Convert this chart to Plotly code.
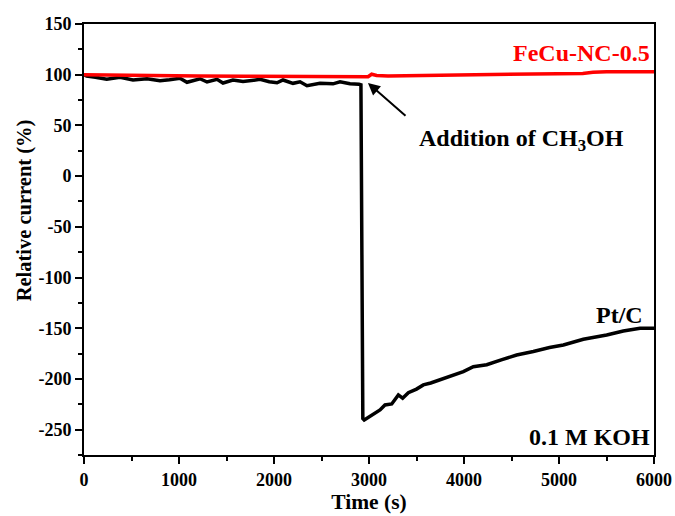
import plotly.graph_objects as go

# Pt/C series
pt_t = [0, 28, 120, 239, 379, 516, 663, 800, 900, 1010, 1084, 1221, 1295, 1400, 1463,
        1568, 1674, 1753, 1853, 1950, 2032, 2095, 2200, 2274, 2347, 2484, 2621, 2695,
        2800, 2895, 2915, 2935, 2950, 3116, 3168, 3239, 3274, 3309, 3354, 3414, 3500,
        3572, 3650, 3747, 3850, 3993, 4098, 4239, 4400, 4554, 4730, 4900, 5046, 5256,
        5502, 5677, 5853, 6000]
pt_y = [100, 98.6, 97.5, 95.5, 97.5, 94.8, 96, 94, 95, 96.5, 92.5, 96, 92.8, 95.4, 91.8,
        94.8, 93.2, 94, 95.4, 93, 92, 94.8, 91.5, 93, 89.2, 91.5, 91, 93,
        91, 90.5, 90, -239, -240.5, -230.6, -225.7, -224.7, -220.7, -215.8, -219, -213.5, -210,
        -205.9, -204, -201, -197.5, -192.7, -187.9, -186, -181, -176.4, -173, -169, -166.5, -160.9,
        -156.6, -152.7, -150, -150]

# FeCu-NC-0.5 series
fe_t = [0, 300, 700, 1200, 1700, 2200, 2600, 2900, 2990, 3028, 3080, 3200, 3600, 4000,
        4449, 5000, 5250, 5358, 5500, 6000]
fe_y = [100, 99.5, 99, 98.8, 98.5, 98, 97.6, 97.5, 98, 100.5, 99.2, 98.8, 99.2, 99.8,
        100.5, 101, 101.3, 102.3, 102.8, 103]

x_ticks = [0, 1000, 2000, 3000, 4000, 5000, 6000]
y_ticks = [150, 100, 50, 0, -50, -100, -150, -200, -250]

FONT = "Liberation Serif"

fig = go.Figure()
fig.add_trace(go.Scatter(x=pt_t, y=pt_y, mode="lines", line=dict(color="black", width=3.5),
                         name="Pt/C", showlegend=False))
fig.add_trace(go.Scatter(x=fe_t, y=fe_y, mode="lines", line=dict(color="#ff0000", width=3.5),
                         name="FeCu-NC-0.5", showlegend=False))

axis_common = dict(
    showline=True, linecolor="black", linewidth=2, mirror=True,
    ticks="outside", ticklen=7, tickwidth=2, tickcolor="black",
    showgrid=False, zeroline=False, automargin=False,
    tickfont=dict(family=FONT, size=18, color="black"),
)

fig.update_xaxes(range=[0, 6000], tickvals=x_ticks, ticktext=["<b>%d</b>" % v for v in x_ticks],
                 minor=dict(dtick=500, ticklen=4, tickwidth=2, tickcolor="black", ticks="outside"),
                 title=dict(text="<b>Time (s)</b>", font=dict(family=FONT, size=21.5, color="black"),
                            standoff=4),
                 **axis_common)
fig.update_yaxes(range=[-275, 150], tickvals=y_ticks, ticktext=["<b>%d</b>" % v for v in y_ticks],
                 minor=dict(dtick=25, tick0=0, ticklen=4, tickwidth=2, tickcolor="black", ticks="outside"),
                 **axis_common)

# y-axis title placed as rotated text
fig.add_annotation(x=-0.105, y=0.568, xref="paper", yref="paper", text="<b>Relative current (%)</b>",
                   showarrow=False, textangle=-90, xanchor="center", yanchor="middle",
                   font=dict(family=FONT, size=20.5, color="black"))

ann_font = dict(family=FONT, size=24, color="black")
fig.add_annotation(x=6000, y=121, xref="x", yref="y", text="<b>FeCu-NC-0.5</b>", showarrow=False,
                   xanchor="right", yanchor="middle", xshift=-2,
                   font=dict(family=FONT, size=24, color="#ff0000"))
fig.add_annotation(x=3505, y=36, xref="x", yref="y", text="<b>Addition of CH<sub>3</sub>OH</b>", showarrow=False,
                   xanchor="left", yanchor="middle", font=ann_font)
fig.add_annotation(x=2989, y=91.8, ax=3400, ay=58.3, xref="x", yref="y", axref="x", ayref="y",
                   text="", showarrow=True, arrowhead=2, arrowsize=1.2, arrowwidth=2, arrowcolor="black")
fig.add_annotation(x=5905, y=-137, xref="x", yref="y", text="<b>Pt/C</b>", showarrow=False,
                   xanchor="right", yanchor="middle", font=ann_font)
fig.add_annotation(x=5979, y=-257, xref="x", yref="y", text="<b>0.1 M KOH</b>", showarrow=False,
                   xanchor="right", yanchor="middle", font=ann_font)

fig.update_layout(width=675, height=516, margin=dict(l=84, r=21, t=24, b=61),
                  plot_bgcolor="white", paper_bgcolor="white",
                  font=dict(family=FONT, color="black"))

fig.write_html("out.html")
